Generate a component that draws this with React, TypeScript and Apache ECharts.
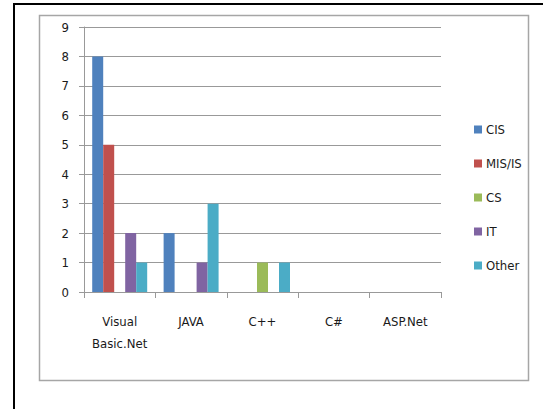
import React, { useEffect, useRef } from "react";
import * as echarts from "echarts";

const categories = ["Visual\nBasic.Net", "JAVA", "C++", "C#", "ASP.Net"];
const seriesNames = ["CIS", "MIS/IS", "CS", "IT", "Other"];
const cisValues = [8, 2, 0, 0, 0];
const misValues = [5, 0, 0, 0, 0];
const csValues = [0, 0, 1, 0, 0];
const itValues = [2, 1, 0, 0, 0];
const otherValues = [1, 3, 1, 0, 0];
const palette = ["#4F81BD", "#C0504D", "#9BBB59", "#8064A2", "#4BACC6"];

const FONT = "'DejaVu Sans Condensed', 'Liberation Sans', sans-serif";

export default function App() {
  const ref = useRef<HTMLDivElement>(null);

  useEffect(() => {
    if (!ref.current) return;
    const chart = echarts.init(ref.current, undefined, { renderer: "svg" });
    const values = [cisValues, misValues, csValues, itValues, otherValues];
    chart.setOption({
      animation: false,
      backgroundColor: "#ffffff",
      textStyle: { fontFamily: FONT },
      color: palette,
      graphic: [
        {
          type: "rect",
          shape: { x: 14, y: 4, width: 600, height: 500 },
          style: { fill: "none", stroke: "#000000", lineWidth: 2 },
          silent: true,
        },
        {
          type: "rect",
          shape: { x: 39.5, y: 15.5, width: 489, height: 365 },
          style: { fill: "none", stroke: "#a6a6a6", lineWidth: 1.5 },
          silent: true,
        },
      ],
      grid: { left: 84, top: 27, right: 102, bottom: 117 },
      legend: {
        orient: "vertical",
        left: 469,
        top: 118,
        itemWidth: 8,
        itemHeight: 8,
        itemGap: 21,
        icon: "rect",
        data: seriesNames,
        textStyle: { fontSize: 13, color: "#1a1a1a", fontFamily: FONT, padding: [0, 0, 0, -1] },
      },
      xAxis: {
        type: "category",
        data: categories,
        axisLine: { lineStyle: { color: "#999999", width: 1 } },
        axisTick: { show: true, length: 6, lineStyle: { color: "#999999" } },
        axisLabel: {
          interval: 0,
          fontSize: 13,
          color: "#1a1a1a",
          margin: 18,
          lineHeight: 22,
          fontFamily: FONT,
        },
      },
      yAxis: {
        type: "value",
        min: 0,
        max: 9,
        interval: 1,
        axisLine: { show: true, lineStyle: { color: "#999999", width: 1 } },
        axisTick: { show: true, length: 5, lineStyle: { color: "#999999" } },
        splitLine: { lineStyle: { color: "#999999", width: 1 } },
        axisLabel: { fontSize: 13, color: "#1a1a1a", margin: 15, fontFamily: FONT },
      },
      series: seriesNames.map((name, i) => ({
        name,
        type: "bar",
        data: values[i],
        barGap: "0%",
        barCategoryGap: "23%",
        itemStyle: { color: palette[i] },
      })),
    });
    return () => chart.dispose();
  }, []);

  return (
    <div
      ref={ref}
      style={{ position: "fixed", left: 0, top: 0, width: 543, height: 409 }}
    />
  );
}
